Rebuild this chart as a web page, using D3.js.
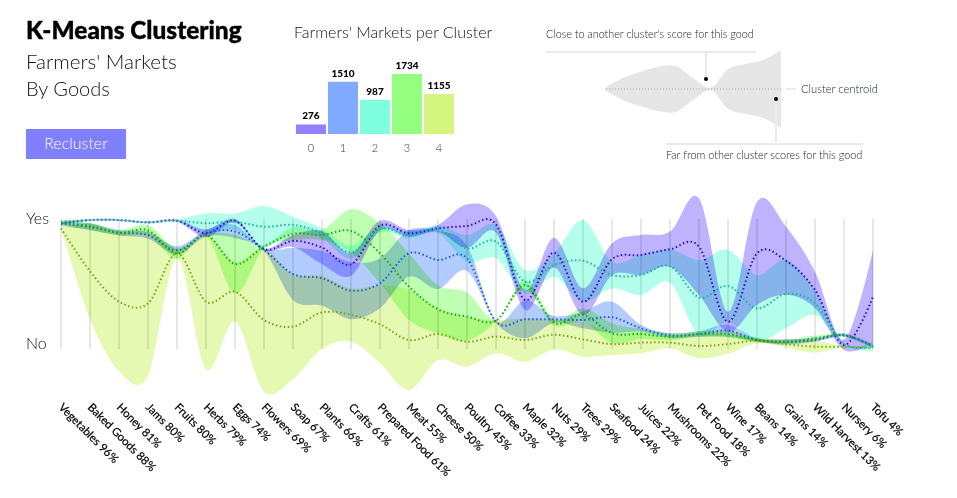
<!DOCTYPE html>
<html>
<head>
<meta charset="utf-8">
<script src="https://cdn.jsdelivr.net/npm/d3@7"></script>
<style>
  body { margin: 0; background: #fff; }
  text { font-family: Lato, 'Open Sans', sans-serif; }
</style>
</head>
<body>
<div id="chart"></div>
<script>
const goods = ['Vegetables 96%', 'Baked Goods 88%', 'Honey 81%', 'Jams 80%', 'Fruits 80%', 'Herbs 79%', 'Eggs 74%',
  'Flowers 69%', 'Soap 67%', 'Plants 66%', 'Crafts 61%', 'Prepared Food 61%', 'Meat 55%', 'Cheese 50%', 'Poultry 45%',
  'Coffee 33%', 'Maple 32%', 'Nuts 29%', 'Trees 29%', 'Seafood 24%', 'Juices 22%', 'Mushrooms 22%', 'Pet Food 18%',
  'Wine 17%', 'Beans 14%', 'Grains 14%', 'Wild Harvest 13%', 'Nursery 6%', 'Tofu 4%']

// centroid score per good (0 = No, 100 = Yes)
const centroid0 = [96.7, 99.2, 99.2, 97.4, 98.7, 89, 98.7, 76.7, 83.1, 78, 65.1, 94.9, 89, 92.8, 94.6, 95.9, 37.7, 74.1, 36.4, 69, 72.3, 76.7, 78.7, 21, 73.6, 67.9, 45.4, 3.1, 40.3]
const centroid1 = [96.4, 93.9, 89.5, 87.5, 75.9, 89, 90.3, 76.2, 57.7, 54.4, 44.9, 50.5, 73.6, 68.5, 69.7, 21, 22.8, 22.8, 22.3, 24.4, 15.9, 10.3, 11.5, 14.1, 6.9, 5.6, 6.9, 10.8, 2.3]
const centroid2 = [97.9, 99.2, 99.2, 97.4, 98.7, 96.7, 97.9, 94.1, 95.4, 89, 74.4, 92.3, 87.7, 92.1, 77.4, 82.6, 51.8, 64.6, 67.9, 56.9, 56.9, 63.8, 39.7, 48.5, 31.3, 42.3, 35.1, 3.8, 1.8]
const centroid3 = [96.7, 94.6, 89.5, 91.3, 73.3, 87.7, 65.4, 78.7, 88.5, 87.7, 90.8, 73.6, 47.9, 30.5, 24.9, 21.8, 49.2, 20.3, 26.2, 12.1, 11.5, 9.5, 11.5, 11.5, 6.9, 5.6, 8.2, 10.5, 1.8]
const centroid4 = [92.8, 59.8, 36.4, 35.1, 73.6, 36.4, 44.1, 22.3, 17.2, 28.2, 26.2, 19, 6.9, 11.5, 5.6, 9.5, 6.9, 11, 7.4, 3.8, 4.9, 4.9, 2.3, 3.8, 6.4, 3.8, 1.8, 1.8, 1]

// spread around the centroid, same units
const spread0 = [0.8, 0.5, 0.5, 0.5, 0.8, 3.1, 1.3, 0.8, 4.6, 12.8, 8.7, 3.8, 2.6, 2.6, 16.7, 6.4, 7.7, 11.5, 10.3, 12.3, 15.4, 13.6, 37.2, 7.7, 39.7, 26.2, 14.1, 3.8, 35.9]
const spread1 = [1.3, 2.6, 2.1, 2.6, 3.1, 2.6, 5.1, 0.8, 20, 21, 22, 19.2, 17.9, 22.3, 9.7, 0.8, 14.6, 2.6, 6.4, 12, 2.6, 1.8, 2.1, 4.6, 1.3, 2.1, 1.3, 1.3, 1.3]
const spread2 = [0.8, 0.5, 0.5, 0.5, 0.8, 7.7, 6.4, 15.9, 6.4, 3.8, 5.1, 2.6, 2.6, 3.1, 10.3, 12.8, 9, 9, 31.3, 10.3, 15.4, 12.8, 28.7, 27.7, 25.6, 26.4, 9, 0.8, 3.8]
const spread3 = [2.6, 2.6, 2.1, 3.8, 3.8, 0.8, 22.6, 1.3, 5.1, 3.8, 16.7, 23.1, 25.6, 18.5, 18.5, 0.8, 3.8, 2.1, 5.1, 7.7, 3.8, 2.6, 2.1, 2.6, 1.5, 1.5, 2.1, 0.8, 0.5]
const spread4 = [0, 36.7, 53.6, 55.6, 3.8, 51.8, 23.1, 55.1, 40.3, 28.2, 20.5, 30, 38.5, 20, 19.2, 12.8, 16.7, 11.3, 13.3, 8.5, 8.2, 4.4, 9.5, 7.2, 2.1, 2.6, 4.6, 0.5, 0]

const clusterIds = ['0', '1', '2', '3', '4']
const clusterCounts = [276, 1510, 987, 1734, 1155]
const clusterColors = ['#9580ff', '#80aaff', '#80ffdf', '#95ff80', '#d4f580']
const lineColors = ['#2a10c8', '#1c5cd8', '#10b898', '#18a818', '#7fa010']

// legend sketch: a made-up band, half width per step
const legendSpread = [1, 11, 17, 22, 23, 11, 1, 20, 25, 29, 39]

const centroids = [centroid0, centroid1, centroid2, centroid3, centroid4]
const spreads = [spread0, spread1, spread2, spread3, spread4]

const width = 957
const height = 498

const svg = d3
  .select('#chart')
  .append('svg')
  .attr('width', width)
  .attr('height', height)
  .style('display', 'block')

// ---- header ----
svg.append('text').attr('x', 26).attr('y', 39).attr('font-size', 24.4).attr('font-weight', 900).attr('stroke', '#000').attr('stroke-width', 0.4).text('K-Means Clustering')
svg.append('text').attr('x', 26).attr('y', 69).attr('font-size', 20.5).attr('font-weight', 300).attr('fill', '#111').text("Farmers' Markets")
svg.append('text').attr('x', 26).attr('y', 96).attr('font-size', 20).attr('font-weight', 300).attr('fill', '#111').text('By Goods')

svg.append('rect').attr('x', 26).attr('y', 129).attr('width', 100).attr('height', 30).attr('fill', '#8080ff')
svg.append('text').attr('x', 76).attr('y', 149).attr('text-anchor', 'middle').attr('font-size', 16).attr('font-weight', 300).attr('fill', '#fff').text('Recluster')

// ---- bars ----
svg.append('text').attr('x', 294).attr('y', 38).attr('font-size', 16).attr('font-weight', 300).attr('fill', '#111').text("Farmers' Markets per Cluster")

const barX = d3.scaleBand().domain(clusterIds).range([295, 455]).paddingInner(0.0625).paddingOuter(0.03)
const barY = d3.scaleLinear().domain([0, 1734]).range([134, 74])

const bars = svg.append('g')
bars.selectAll('rect')
  .data(clusterCounts)
  .enter()
  .append('rect')
  .attr('x', (d, i) => barX(clusterIds[i]))
  .attr('y', d => barY(d))
  .attr('width', barX.bandwidth())
  .attr('height', d => barY(0) - barY(d))
  .attr('fill', (d, i) => clusterColors[i])

bars.selectAll('.count')
  .data(clusterCounts)
  .enter()
  .append('text')
  .attr('class', 'count')
  .attr('x', (d, i) => barX(clusterIds[i]) + barX.bandwidth() / 2)
  .attr('y', d => barY(d) - 5)
  .attr('text-anchor', 'middle')
  .attr('font-size', 10)
  .attr('font-weight', 900)
  .text(d => d)

bars.selectAll('.id')
  .data(clusterIds)
  .enter()
  .append('text')
  .attr('class', 'id')
  .attr('x', d => barX(d) + barX.bandwidth() / 2)
  .attr('y', 152)
  .attr('text-anchor', 'middle')
  .attr('font-size', 11)
  .attr('font-weight', 300)
  .attr('fill', '#333')
  .text(d => d)

// ---- the little legend sketch ----
const legendX = d3.scaleLinear().domain([0, legendSpread.length - 1]).range([605, 781])
const legendY = 89
const legendArea = d3.area()
  .x((d, i) => legendX(i))
  .y0(d => legendY - d)
  .y1(d => legendY + d)
  .curve(d3.curveCatmullRom)

const legend = svg.append('g')
legend.append('path').attr('d', legendArea(legendSpread)).attr('fill', '#e6e6e6')
legend.append('line').attr('x1', 606).attr('x2', 781).attr('y1', legendY).attr('y2', legendY)
  .attr('stroke', '#aaa').attr('stroke-width', 1).attr('stroke-dasharray', '1,2')
legend.append('line').attr('x1', 786).attr('x2', 796).attr('y1', legendY).attr('y2', legendY).attr('stroke', '#e6e6e6').attr('stroke-width', 1.5)

// guide lines
const guide = legend.append('g').attr('stroke', '#eaeaea').attr('stroke-width', 2)
guide.append('line').attr('x1', 546).attr('x2', 756).attr('y1', 52).attr('y2', 52)
guide.append('line').attr('x1', 706).attr('x2', 706).attr('y1', 52).attr('y2', 79)
guide.append('line').attr('x1', 666).attr('x2', 863).attr('y1', 144).attr('y2', 144)
guide.append('line').attr('x1', 776).attr('x2', 776).attr('y1', 99).attr('y2', 144)
legend.append('circle').attr('cx', 706).attr('cy', 79).attr('r', 2).attr('fill', '#000')
legend.append('circle').attr('cx', 776).attr('cy', 99).attr('r', 2).attr('fill', '#000')

legend.append('text').attr('x', 546).attr('y', 38).attr('font-size', 10.8).attr('font-weight', 300).attr('fill', '#222').text("Close to another cluster's score for this good")
legend.append('text').attr('x', 666).attr('y', 159).attr('font-size', 10.9).attr('font-weight', 300).attr('fill', '#222').text('Far from other cluster scores for this good')
legend.append('text').attr('x', 801).attr('y', 93).attr('font-size', 11.2).attr('font-weight', 300).attr('fill', '#123').text('Cluster centroid')

// ---- main chart ----
const x = d3.scalePoint().domain(goods).range([61, 873])
const y = d3.scaleLinear().domain([0, 100]).range([349, 219])

const area = d3.area()
  .x(d => x(d.good))
  .y0(d => y(d.score - d.spread))
  .y1(d => y(d.score + d.spread))
  .curve(d3.curveCardinal.tension(0))

const line = d3.line()
  .x(d => x(d.good))
  .y(d => y(d.score))
  .curve(d3.curveCardinal.tension(0))

const rows = centroids.map((c, k) => goods.map((good, i) => ({ good: good, score: c[i], spread: spreads[k][i] })))

const chart = svg.append('g').style('isolation', 'isolate')

// the overlap colours in the original look multiplied, not just stacked
chart.selectAll('.band')
  .data(rows)
  .enter()
  .append('path')
  .attr('class', 'band')
  .attr('d', area)
  .attr('fill', (d, i) => clusterColors[i])
  .attr('fill-opacity', 0.6)
  .style('mix-blend-mode', 'multiply')

// gridlines sit on top of the bands
svg.append('g')
  .selectAll('line')
  .data(goods)
  .enter()
  .append('line')
  .attr('x1', d => x(d))
  .attr('x2', d => x(d))
  .attr('y1', 219)
  .attr('y2', 349)
  .attr('stroke', '#000')
  .attr('stroke-opacity', 0.09)
  .attr('stroke-width', 2)

svg.append('g')
  .selectAll('path')
  .data(rows)
  .enter()
  .append('path')
  .attr('d', line)
  .attr('fill', 'none')
  .attr('stroke', (d, i) => lineColors[i])
  .attr('stroke-width', 2)
  .attr('stroke-dasharray', '1.5,2.5')

svg.append('text').attr('x', 26).attr('y', 224).attr('font-size', 16).attr('font-weight', 300).attr('fill', '#111').text('Yes')
svg.append('text').attr('x', 26).attr('y', 349).attr('font-size', 16).attr('font-weight', 300).attr('fill', '#111').text('No')

// slanted labels
svg.append('g')
  .selectAll('text')
  .data(goods)
  .enter()
  .append('text')
  .attr('transform', d => 'translate(' + (x(d) - 3) + ',408) rotate(45)')
  .attr('font-size', 11.3)
  .attr('fill', '#000')
  .attr('stroke', '#000')
  .attr('stroke-width', 0.2)
  .text(d => d)
</script>
</body>
</html>
